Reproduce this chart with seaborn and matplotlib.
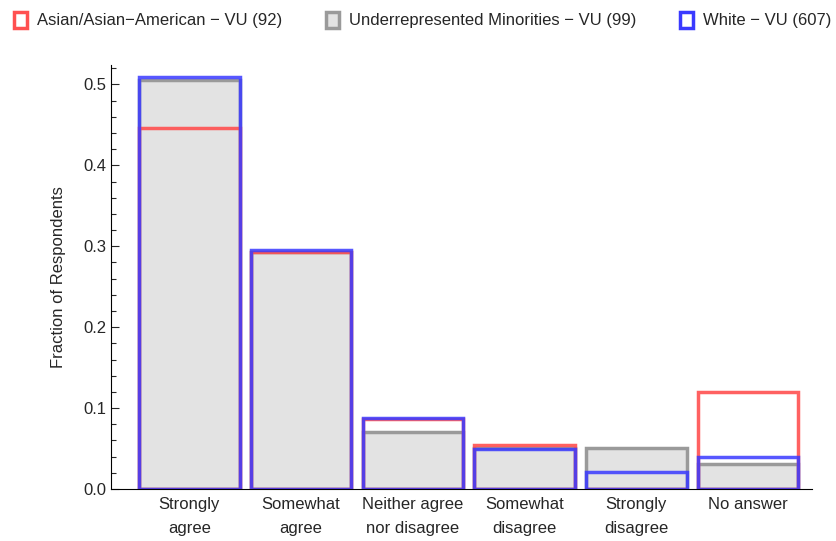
import matplotlib
matplotlib.use("Agg")
import matplotlib.pyplot as plt
import seaborn as sns
from matplotlib.patches import Patch
from matplotlib.ticker import MultipleLocator

categories = ["Strongly\nagree", "Somewhat\nagree", "Neither agree\nnor disagree",
              "Somewhat\ndisagree", "Strongly\ndisagree", "No answer"]
asian = [0.4457, 0.2935, 0.0870, 0.0543, 0.0, 0.1196]
urm = [0.5051, 0.2929, 0.0707, 0.0505, 0.0505, 0.0303]
white = [0.5091, 0.2949, 0.0873, 0.0494, 0.0214, 0.0395]
labels = ["Asian/Asian\u2212American \u2212 VU (92)",
          "Underrepresented Minorities \u2212 VU (99)",
          "White \u2212 VU (607)"]

sns.set_style("ticks")
plt.rcParams["font.family"] = ["Liberation Sans", "DejaVu Sans"]

red = "#ff5050"
gray_edge = "#9a9a9a"
gray_fill = "#e3e3e3"
blue = "#3a3aff"

fig = plt.figure(figsize=(8.37, 5.41), dpi=100)
ax = fig.add_axes([0.1326, 0.0961, 0.8374, 0.7838])

# gray series: filled
n0 = len(ax.patches)
sns.barplot(x=categories, y=urm, ax=ax, color=gray_fill, width=0.9, linewidth=2.5)
for p in ax.patches[n0:]:
    p.set_facecolor(gray_fill)
    p.set_edgecolor(gray_edge)
    p.set_linewidth(2.5)

# red series: outline only
n0 = len(ax.patches)
sns.barplot(x=categories, y=asian, ax=ax, color=red, width=0.9, fill=False, linewidth=2.5)
for p in ax.patches[n0:]:
    p.set_facecolor("none")
    p.set_edgecolor(red)
    p.set_alpha(0.9)
    p.set_linewidth(2.5)

# blue series: outline only
n0 = len(ax.patches)
sns.barplot(x=categories, y=white, ax=ax, color=blue, width=0.9, fill=False, linewidth=2.5)
for p in ax.patches[n0:]:
    p.set_facecolor("none")
    p.set_edgecolor(blue)
    p.set_alpha(0.85)
    p.set_linewidth(2.5)

ax.set_xlim(-0.70, 5.57)
ax.set_ylim(0, 0.524)
ax.yaxis.set_major_locator(MultipleLocator(0.1))
ax.yaxis.set_minor_locator(MultipleLocator(0.02))
ax.tick_params(axis="y", which="major", direction="in", length=6, width=0.8, labelsize=12)
ax.tick_params(axis="y", which="minor", direction="in", length=3.5, width=0.8)
ax.tick_params(axis="x", direction="in", length=4, width=0.8, labelsize=12, pad=6)
for t in ax.get_xticklabels():
    t.set_linespacing(1.75)
ax.set_yticklabels([f"{v:.1f}" for v in ax.get_yticks()])
ax.set_ylabel("Fraction of Respondents", fontsize=12, labelpad=12)
ax.set_xlabel("")
for s in ["top", "right"]:
    ax.spines[s].set_visible(False)
for s in ["left", "bottom"]:
    ax.spines[s].set_linewidth(0.8)
    ax.spines[s].set_color("black")

handles = [Patch(facecolor="white", edgecolor=red, linewidth=2.5),
           Patch(facecolor=gray_fill, edgecolor=gray_edge, linewidth=2.5),
           Patch(facecolor="white", edgecolor=blue, linewidth=2.5)]
fig.legend(handles, labels, loc="center", bbox_to_anchor=(0.505, 0.963), ncol=3,
           frameon=False, fontsize=12, handlelength=0.8, handleheight=1.1,
           handletextpad=0.6, columnspacing=2.6)

fig.savefig("out.png", dpi=100)
